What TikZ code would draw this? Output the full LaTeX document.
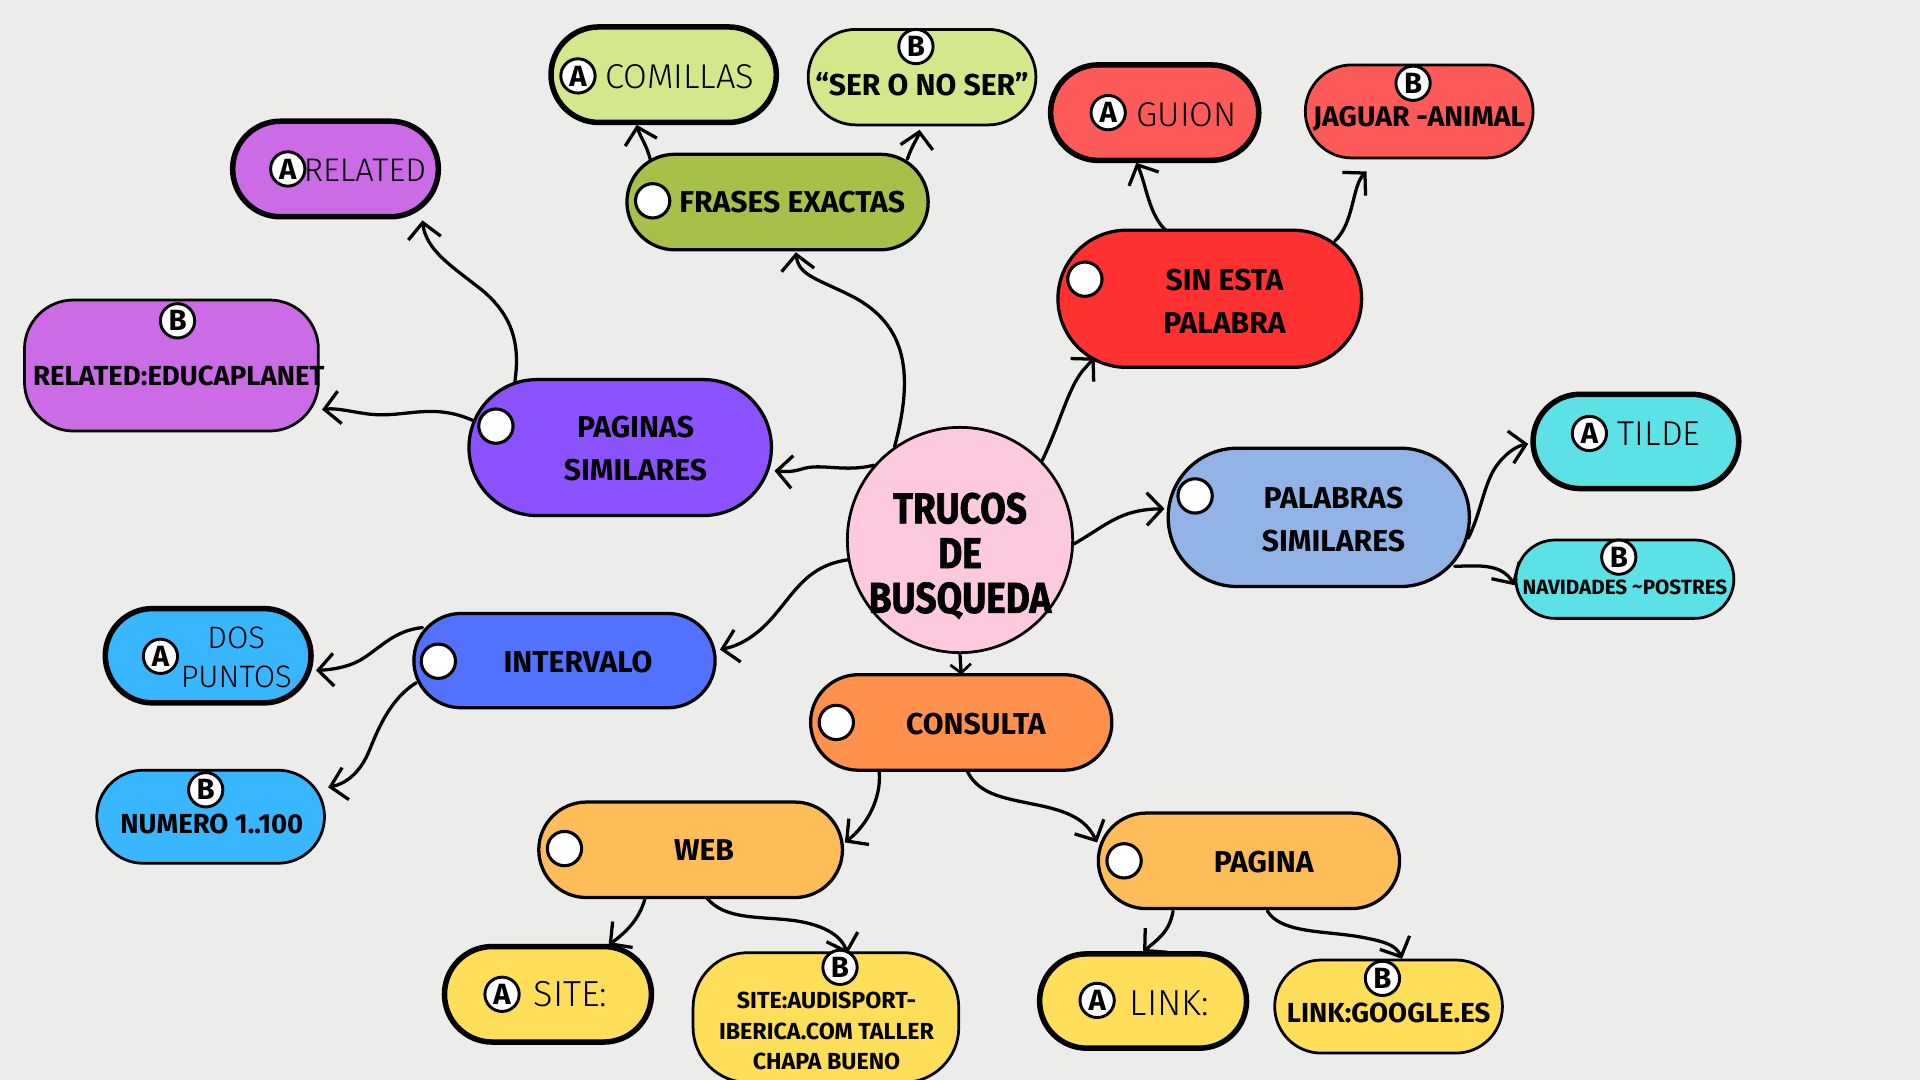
\documentclass[tikz,border=0pt]{standalone}
\usepackage{fontspec}
\setmainfont{Fira Sans}
\newfontfamily\lightfont{Fira Sans Light}
\newfontfamily\titlefont{Fira Sans}[BoldFeatures={FakeBold=1.6}]
\usetikzlibrary{arrows.meta}
\pgfdeclarelayer{bg}
\pgfsetlayers{bg,main}
\definecolor{paper}{HTML}{ECECEB}
\definecolor{lgreen}{HTML}{D3E88B}
\definecolor{dgreen}{HTML}{A7C04A}
\definecolor{lred}{HTML}{FF5A5A}
\definecolor{dred}{HTML}{FF3131}
\definecolor{lpurple}{HTML}{CB6CE6}
\definecolor{violet}{HTML}{8C52FF}
\definecolor{pblue}{HTML}{92B3E5}
\definecolor{cyan}{HTML}{5CE1E6}
\definecolor{dblue}{HTML}{5271FF}
\definecolor{sky}{HTML}{38B6FF}
\definecolor{orange}{HTML}{FF914D}
\definecolor{lorange}{HTML}{FFBD59}
\definecolor{yellow}{HTML}{FFDE59}
\definecolor{pink}{HTML}{FDC9DF}
\begin{document}
\begin{tikzpicture}[x=0.025cm,y=-0.025cm,
  box/.style n args={3}{draw, fill=#3, minimum width={#1*0.025cm}, minimum height={#2*0.025cm},
    rounded corners={#2*0.0125cm}, inner sep=0pt, outer sep=0pt},
  thickb/.style={line width=3.2pt},
  thinb/.style={line width=1.6pt},
  mainb/.style={line width=1.9pt},
  dot/.style={circle, draw, fill=white, line width=1.8pt, minimum size=0.7cm, inner sep=0pt},
  badge/.style={circle, draw, fill=white, line width=1.7pt, minimum size=0.7cm, inner sep=0pt,
    font=\fontsize{17}{17}\selectfont\bfseries},
  mtxt/.style={font=\fontsize{17.5}{25}\selectfont\bfseries, align=center, inner sep=0pt},
  atxt/.style={font=\fontsize{20}{23}\selectfont\lightfont, align=center, inner sep=0pt},
  btxt/.style={font=\fontsize{16.5}{20}\selectfont\bfseries, align=center, inner sep=0pt},
  ttxt/.style={font=\fontsize{25}{26}\selectfont\titlefont\bfseries, align=center, inner sep=0pt},
  conn/.style={line width=1.9pt, line cap=round,
    -{Straight Barb[length=9pt,width=19pt,line width=1.9pt]}},
]
\useasboundingbox (0,0) rectangle (1568,882);

% central topic
\node[circle, draw, fill=pink, line width=1.6pt, minimum size={184*0.025cm}, inner sep=0pt] (c) at (784,441) {};
\node[ttxt] (ct) at (784,454) {\scalebox{0.86}[1]{TRUCOS}\\\scalebox{0.86}[1]{DE}\\\scalebox{0.86}[1]{BUSQUEDA}};

% frases exactas
\node[box={246}{78}{dgreen}, mainb] (fr) at (635,165) {};
\node[dot] (frd) at (533,164) {};
\node[mtxt] (frt) at (647,165) {FRASES EXACTAS};
\node[box={184}{78}{lgreen}, thickb] (com) at (542,61) {};
\node[badge] (comb) at (472,62) {A};
\node[atxt] (comt) at (555,63) {COMILLAS};
\node[box={186}{78}{lgreen}, thinb] (ser) at (753,63) {};
\node[badge] (serb) at (748,38) {B};
\node[btxt, font=\fontsize{17.5}{20}\selectfont\bfseries] (sert) at (753,69) {“SER O NO SER”};

% sin esta palabra
\node[box={248}{112}{dred}, mainb] (si) at (988,244) {};
\node[dot] (sid) at (886,228) {};
\node[mtxt] (sit) at (1000,246) {SIN ESTA\\PALABRA};
\node[box={170}{78}{lred}, thickb] (gu) at (943,92) {};
\node[badge] (gub) at (905,92) {A};
\node[atxt] (gut) at (969,94) {GUION};
\node[box={186}{76}{lred}, thinb] (ja) at (1159,91) {};
\node[badge] (jab) at (1154,68) {B};
\node[btxt] (jat) at (1159,97) {JAGUAR -ANIMAL};

% paginas similares
\node[box={247}{111}{violet}, mainb] (pg) at (506.5,365.5) {};
\node[dot] (pgd) at (405,348) {};
\node[mtxt] (pgt) at (519,366) {PAGINAS\\SIMILARES};
\node[box={168}{78}{lpurple}, thickb] (re) at (274,138) {};
\node[badge] (reb) at (235,138) {A};
\node[atxt, font=\fontsize{19}{23}\selectfont\lightfont] (ret) at (298,139) {RELATED};
\node[draw, fill=lpurple, thinb, minimum width={240*0.025cm}, minimum height={107*0.025cm},
  rounded corners={40*0.025cm}, inner sep=0pt] (ed) at (140,298.5) {};
\node[badge] (edb) at (145,262) {B};
\node[btxt, font=\fontsize{16}{20}\selectfont\bfseries] (edt) at (146,307) {RELATED:EDUCAPLANET};

% palabras similares
\node[box={246}{113}{pblue}, mainb] (pa) at (1077,422.5) {};
\node[dot] (pad) at (976,405) {};
\node[mtxt] (pat) at (1089,424) {PALABRAS\\SIMILARES};
\node[box={168}{77}{cyan}, thickb] (ti) at (1336,360.5) {};
\node[badge] (tib) at (1298,354) {A};
\node[atxt] (tit) at (1355,354) {TILDE};
\node[box={178}{64}{cyan}, thinb] (na) at (1327,473) {};
\node[badge] (nab) at (1322,455) {B};
\node[btxt, font=\fontsize{12}{14}\selectfont\bfseries] (nat) at (1327,480) {NAVIDADES {\raisebox{0.15ex}{\textasciitilde}}POSTRES};

% intervalo
\node[box={246}{77}{dblue}, mainb] (in) at (461,539.5) {};
\node[dot] (ind) at (358,540) {};
\node[mtxt] (int) at (472,541) {INTERVALO};
\node[box={168}{77}{sky}, thickb] (dp) at (170,535.5) {};
\node[badge] (dpb) at (131,536) {A};
\node[atxt, font=\fontsize{18}{22.8}\selectfont\lightfont] (dpt) at (193,537) {DOS\\PUNTOS};
\node[box={186}{76}{sky}, thinb] (nu) at (172,667) {};
\node[badge] (nub) at (168,645) {B};
\node[btxt, font=\fontsize{16}{20}\selectfont\bfseries] (nut) at (173,673) {NUMERO 1..100};

% consulta
\node[box={246}{78}{orange}, mainb] (co) at (785,590) {};
\node[dot] (cod) at (683,590) {};
\node[mtxt] (cot) at (797,591) {CONSULTA};
\node[box={248}{78}{lorange}, mainb] (web) at (564,694) {};
\node[dot] (webd) at (461,693) {};
\node[mtxt] (webt) at (575,694) {WEB};
\node[box={246}{78}{lorange}, mainb] (pag) at (1020,703) {};
\node[dot] (pagd) at (918,703) {};
\node[mtxt] (pagt) at (1032,704) {PAGINA};
\node[box={169}{78}{yellow}, thickb] (site) at (447.5,812) {};
\node[badge] (siteb) at (410,812) {A};
\node[atxt, font=\fontsize{21}{23}\selectfont\lightfont] (sitet) at (466,812) {SITE:};
\node[draw, fill=yellow, thinb, minimum width={217*0.025cm}, minimum height={106*0.025cm},
  rounded corners={45*0.025cm}, inner sep=0pt] (aud) at (674.5,831) {};
\node[badge] (audb) at (686,790) {B};
\node[btxt, font=\fontsize{13.5}{17.8}\selectfont\bfseries] (audt) at (675,842) {SITE:AUDISPORT-\\IBERICA.COM TALLER\\CHAPA BUENO};
\node[box={169}{77}{yellow}, thickb] (link) at (933.5,817.5) {};
\node[badge] (linkb) at (896,817) {A};
\node[atxt, font=\fontsize{21}{23}\selectfont\lightfont] (linkt) at (955,819) {LINK:};
\node[box={186}{76}{yellow}, thinb] (goo) at (1134,822) {};
\node[badge] (goob) at (1129,799) {B};
\node[btxt, font=\fontsize{16}{20}\selectfont\bfseries] (goot) at (1134,827) {LINK:GOOGLE.ES};

\begin{pgfonlayer}{bg}
\fill[paper] (0,0) rectangle (1568,882);
% branches from the central topic
\draw[conn] (c.125) .. controls (748,300) and (738,262) .. (692,240) .. controls (665,227) and (652,224) .. ([shift={(15,41)}]fr.center);
\draw[conn] (c.139) .. controls (690,386) and (670,378) .. (655,383) .. controls (645,386) and (640,385) .. ([shift={(126,19)}]pg.center);
\draw[conn] (c.44) .. controls (866,345) and (872,318) .. (884,303) .. controls (888,298) .. ([shift={(-94,48)}]si.center);
\draw[conn] (c.-2) .. controls (905,428) and (915,416) .. ([shift={(-126,-7)}]pa.center);
\draw[conn] (c.190) .. controls (660,462) and (650,482) .. (632,503) .. controls (615,523) and (600,528) .. ([shift={(127,-9)}]in.center);
\draw[conn, -{Straight Barb[length=5pt,width=12pt,line width=1.6pt]}] (c.south) -- (co.north);
% frases exactas
\draw[conn] ([shift={(-104,-35)}]fr.center) .. controls (528,118) and (522,110) .. ([shift={(-22,41)}]com.center);
\draw[conn] ([shift={(106,-35)}]fr.center) .. controls (745,118) and (750,112) .. ([shift={(-2,43)}]ser.center);
% sin esta palabra
\draw[conn] ([shift={(-36,-56)}]si.center) .. controls (938,175) and (936,150) .. ([shift={(-15,41)}]gu.center);
\draw[conn] ([shift={(102,-47)}]si.center) .. controls (1106,182) and (1104,152) .. ([shift={(-43,49)}]ja.center);
% paginas similares
\draw[conn] ([shift={(-86,-54)}]pg.center) .. controls (425,280) and (418,258) .. (395,238) .. controls (370,218) and (348,205) .. ([shift={(71,42)}]re.center);
\draw[conn] ([shift={(-120,-22)}]pg.center) .. controls (352,328) and (330,342) .. (300,338) .. controls (285,336) and (275,333) .. ([shift={(123,36)}]ed.center);
% palabras similares
\draw[conn] ([shift={(122,17)}]pa.center) .. controls (1210,418) and (1212,392) .. (1224,378) .. controls (1232,368) and (1240,364) .. ([shift={(-88,2)}]ti.center);
\draw[conn] ([shift={(111,40)}]pa.center) .. controls (1208,462) and (1226,460) .. ([shift={(-90,5)}]na.center);
% intervalo
\draw[conn] ([shift={(-116,-27)}]in.center) .. controls (322,515) and (312,528) .. (296,538) .. controls (285,545) and (270,547) .. ([shift={(88,12)}]dp.center);
\draw[conn] ([shift={(-121,18)}]in.center) .. controls (320,570) and (310,592) .. (302,612) .. controls (294,632) and (282,640) .. ([shift={(96,-24)}]nu.center);
% consulta
\draw[conn] ([shift={(-67,40)}]co.center) .. controls (720,652) and (708,674) .. ([shift={(126,-6)}]web.center);
\draw[conn] ([shift={(5,40)}]co.center) .. controls (800,650) and (822,652) .. (850,658) .. controls (878,664) and (888,672) .. ([shift={(-124,-15)}]pag.center);
\draw[conn] ([shift={(-37,39)}]web.center) .. controls (522,752) and (510,762) .. ([shift={(49.5,-40)}]site.center);
\draw[conn] ([shift={(13,39)}]web.center) .. controls (592,752) and (622,748) .. (650,752) .. controls (676,756) and (688,766) .. ([shift={(17.5,-52)}]aud.center);
\draw[conn] ([shift={(-62,41)}]pag.center) .. controls (955,762) and (944,768) .. ([shift={(0,-40)}]link.center);
\draw[conn] ([shift={(15,41)}]pag.center) .. controls (1046,762) and (1080,760) .. (1110,765) .. controls (1132,769) and (1140,772) .. ([shift={(11,-39)}]goo.center);
\end{pgfonlayer}
\end{tikzpicture}
\end{document}
